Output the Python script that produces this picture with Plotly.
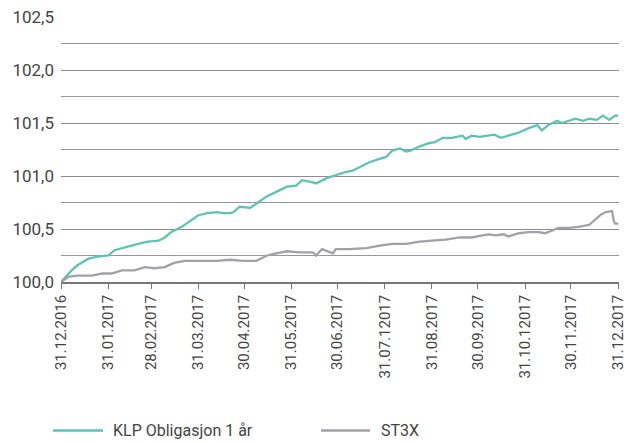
import plotly.graph_objects as go

# --- data ---
klp_dates = ["2016-12-31", "2017-01-07", "2017-01-11", "2017-01-18", "2017-01-24", "2017-01-31",
             "2017-02-04", "2017-02-11", "2017-02-17", "2017-02-22", "2017-02-26", "2017-03-05",
             "2017-03-09", "2017-03-13", "2017-03-20", "2017-03-26", "2017-03-31", "2017-04-06",
             "2017-04-12", "2017-04-16", "2017-04-21", "2017-04-23", "2017-04-27", "2017-05-04",
             "2017-05-10", "2017-05-15", "2017-05-21", "2017-05-28", "2017-06-03", "2017-06-07",
             "2017-06-14", "2017-06-16", "2017-06-23", "2017-06-29", "2017-07-06", "2017-07-10",
             "2017-07-14", "2017-07-21", "2017-07-27", "2017-08-01", "2017-08-05", "2017-08-10",
             "2017-08-14", "2017-08-17", "2017-08-23", "2017-08-29", "2017-09-02", "2017-09-07",
             "2017-09-13", "2017-09-20", "2017-09-22", "2017-09-26", "2017-10-01", "2017-10-07",
             "2017-10-11", "2017-10-15", "2017-10-20", "2017-10-27", "2017-11-02", "2017-11-08",
             "2017-11-11", "2017-11-15", "2017-11-21", "2017-11-24", "2017-12-03", "2017-12-08",
             "2017-12-12", "2017-12-17", "2017-12-21", "2017-12-25", "2017-12-29", "2017-12-31"]
klp_values = [100.00, 100.11, 100.16, 100.22, 100.24, 100.25,
              100.30, 100.33, 100.35, 100.37, 100.38, 100.39,
              100.42, 100.47, 100.52, 100.58, 100.63, 100.65,
              100.66, 100.65, 100.65, 100.66, 100.71, 100.70,
              100.76, 100.81, 100.85, 100.90, 100.91, 100.96,
              100.94, 100.93, 100.98, 101.01, 101.04, 101.05,
              101.08, 101.13, 101.16, 101.18, 101.24, 101.26,
              101.23, 101.24, 101.28, 101.31, 101.32, 101.36,
              101.36, 101.38, 101.35, 101.38, 101.37, 101.38,
              101.39, 101.36, 101.38, 101.41, 101.45, 101.48,
              101.43, 101.48, 101.52, 101.50, 101.54, 101.52,
              101.54, 101.53, 101.57, 101.53, 101.57, 101.57]

st3x_dates = ["2016-12-31", "2017-01-05", "2017-01-11", "2017-01-20", "2017-01-27", "2017-02-02",
              "2017-02-09", "2017-02-17", "2017-02-24", "2017-03-02", "2017-03-09", "2017-03-15",
              "2017-03-22", "2017-03-29", "2017-04-04", "2017-04-12", "2017-04-21", "2017-04-29",
              "2017-05-08", "2017-05-15", "2017-05-21", "2017-05-28", "2017-06-05", "2017-06-14",
              "2017-06-16", "2017-06-20", "2017-06-27", "2017-06-29", "2017-07-08", "2017-07-19",
              "2017-07-27", "2017-08-05", "2017-08-14", "2017-08-23", "2017-08-31", "2017-09-09",
              "2017-09-18", "2017-09-26", "2017-10-03", "2017-10-07", "2017-10-12", "2017-10-17",
              "2017-10-20", "2017-10-27", "2017-11-02", "2017-11-09", "2017-11-13", "2017-11-18",
              "2017-11-22", "2017-11-29", "2017-12-05", "2017-12-12", "2017-12-15", "2017-12-20",
              "2017-12-23", "2017-12-27", "2017-12-28", "2017-12-29", "2017-12-31"]
st3x_values = [100.00, 100.05, 100.06, 100.06, 100.08, 100.08,
               100.11, 100.11, 100.14, 100.13, 100.14, 100.18,
               100.20, 100.20, 100.20, 100.20, 100.21, 100.20,
               100.20, 100.25, 100.27, 100.29, 100.28, 100.28,
               100.25, 100.31, 100.27, 100.31, 100.31, 100.32,
               100.34, 100.36, 100.36, 100.38, 100.39, 100.40,
               100.42, 100.42, 100.44, 100.45, 100.44, 100.45,
               100.43, 100.46, 100.47, 100.47, 100.46, 100.49,
               100.51, 100.51, 100.52, 100.54, 100.58, 100.64,
               100.66, 100.67, 100.58, 100.55, 100.55]

tick_dates = ["2016-12-31", "2017-01-31", "2017-02-28", "2017-03-31", "2017-04-30", "2017-05-31",
              "2017-06-30", "2017-07-31", "2017-08-31", "2017-09-30", "2017-10-31", "2017-11-30",
              "2017-12-31"]
tick_labels = ["31.12.2016", "31.01.2017", "28.02.2017", "31.03.2017", "30.04.2017", "31.05.2017",
               "30.06.2017", "31.07.12017", "31.08.2017", "30.09.2017", "31.10.12017", "30.11.2017",
               "31.12.2017"]

series_names = ["KLP Obligasjon 1 år", "ST3X"]
series_colors = ["#5cc4b3", "#a2a1a7"]

fig = go.Figure()
fig.add_trace(go.Scatter(x=klp_dates, y=klp_values, mode="lines", name=series_names[0],
                         line=dict(color=series_colors[0], width=2.3), showlegend=False))
fig.add_trace(go.Scatter(x=st3x_dates, y=st3x_values, mode="lines", name=series_names[1],
                         line=dict(color=series_colors[1], width=2.3), showlegend=False))

FONT = "Roboto, Arial, sans-serif"
TXT = "#444444"

# manual legend (long line samples like the reference), positions in plot-area fractions
leg_y = -0.56
legend_items = [(-0.0143, 0.0753, 0.090), (0.466, 0.5538, 0.569)]
for (x0, x1, xt), name, col in zip(legend_items, series_names, series_colors):
    fig.add_shape(type="line", xref="paper", yref="paper", x0=x0, x1=x1,
                  y0=leg_y, y1=leg_y, line=dict(color=col, width=2.5))
    fig.add_annotation(xref="paper", yref="paper", x=xt, y=leg_y, text=name,
                       showarrow=False, xanchor="left", yanchor="middle",
                       font=dict(family=FONT, size=16, color=TXT))

fig.update_layout(
    width=627, height=443,
    margin=dict(l=61, r=8, t=17, b=161, autoexpand=False),
    paper_bgcolor="white", plot_bgcolor="white",
    separators=", ",
    font=dict(family=FONT, size=16, color=TXT),
    xaxis=dict(
        type="date", automargin=False,
        range=["2016-12-31", "2017-12-31 12:00"],
        tickmode="array", tickvals=tick_dates, ticktext=tick_labels,
        tickangle=-90, ticks="outside", ticklen=5, tickcolor="#777777", tickwidth=1,
        ticklabeloverflow="allow",
        showgrid=False, showline=True, linecolor="#77777a", linewidth=1.5,
        zeroline=False, tickfont=dict(family=FONT, size=15, color=TXT),
    ),
    yaxis=dict(
        automargin=False,
        range=[100, 102.5], tick0=100, dtick=0.5, tickformat=".1f",
        showgrid=True, gridcolor="#8c8c8f", gridwidth=1,
        minor=dict(dtick=0.25, showgrid=True, gridcolor="#96969a", gridwidth=1),
        showline=False, zeroline=False, ticks="",
        ticklabelstandoff=6,
        tickfont=dict(family=FONT, size=17, color=TXT),
    ),
)

fig.write_html("out.html",
               config={"displayModeBar": False},
               post_script="document.body.style.margin='0';document.body.style.padding='0';")
